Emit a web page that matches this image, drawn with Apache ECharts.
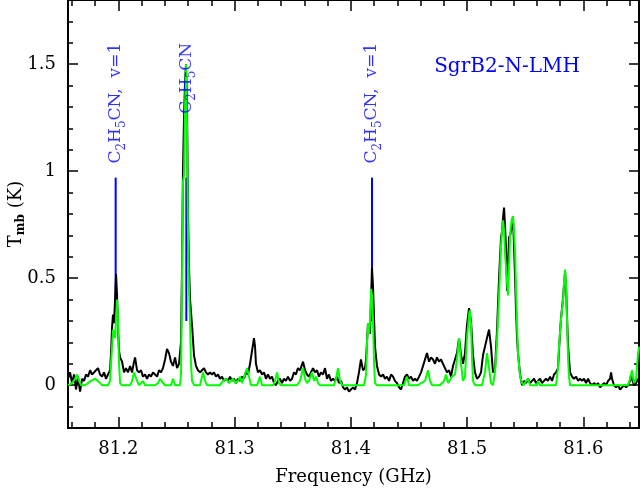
<!DOCTYPE html>
<html><head><meta charset="utf-8">
<script src="https://cdn.jsdelivr.net/npm/echarts@6/dist/echarts.min.js"></script>
<style>html,body{margin:0;padding:0;background:#fff}#c{width:640px;height:491px}</style>
</head><body><div id="c"></div>
<script>
// Observed spectrum (black)
const freqObs = [81.1567,81.1585,81.1602,81.1619,81.1636,81.1653,81.1671,81.1688,81.1705,81.1722,81.1739,81.1757,81.1774,81.1791,81.1808,81.1825,81.1843,81.1860,81.1877,81.1894,81.1911,81.1929,81.1937,81.1946,81.1954,81.1963,81.1972,81.1980,81.1989,81.1997,81.2006,81.2015,81.2032,81.2049,81.2066,81.2083,81.2101,81.2118,81.2135,81.2144,81.2161,81.2178,81.2195,81.2212,81.2230,81.2247,81.2264,81.2281,81.2298,81.2316,81.2333,81.2350,81.2367,81.2384,81.2402,81.2419,81.2436,81.2453,81.2470,81.2488,81.2505,81.2522,81.2539,81.2548,81.2556,81.2565,81.2574,81.2582,81.2591,81.2599,81.2608,81.2617,81.2634,81.2651,81.2668,81.2685,81.2703,81.2720,81.2737,81.2754,81.2771,81.2789,81.2806,81.2823,81.2840,81.2857,81.2875,81.2892,81.2909,81.2926,81.2943,81.2961,81.2978,81.2995,81.3012,81.3029,81.3047,81.3064,81.3081,81.3098,81.3115,81.3133,81.3150,81.3167,81.3176,81.3184,81.3201,81.3219,81.3236,81.3253,81.3270,81.3287,81.3305,81.3322,81.3339,81.3356,81.3373,81.3391,81.3408,81.3425,81.3442,81.3459,81.3477,81.3494,81.3511,81.3528,81.3545,81.3563,81.3589,81.3606,81.3623,81.3640,81.3657,81.3675,81.3692,81.3709,81.3726,81.3743,81.3761,81.3778,81.3795,81.3812,81.3829,81.3847,81.3864,81.3881,81.3898,81.3915,81.3933,81.3950,81.3967,81.3984,81.4001,81.4019,81.4036,81.4053,81.4070,81.4087,81.4105,81.4122,81.4131,81.4148,81.4165,81.4174,81.4182,81.4191,81.4200,81.4208,81.4225,81.4243,81.4260,81.4277,81.4294,81.4311,81.4329,81.4346,81.4363,81.4380,81.4397,81.4415,81.4432,81.4449,81.4466,81.4483,81.4501,81.4518,81.4535,81.4552,81.4569,81.4587,81.4604,81.4621,81.4638,81.4655,81.4673,81.4690,81.4707,81.4724,81.4741,81.4759,81.4776,81.4793,81.4810,81.4827,81.4845,81.4862,81.4879,81.4896,81.4913,81.4931,81.4948,81.4965,81.4982,81.4999,81.5017,81.5034,81.5051,81.5068,81.5085,81.5103,81.5120,81.5137,81.5154,81.5171,81.5189,81.5206,81.5223,81.5240,81.5257,81.5275,81.5292,81.5301,81.5309,81.5318,81.5326,81.5335,81.5344,81.5352,81.5361,81.5370,81.5378,81.5387,81.5395,81.5404,81.5413,81.5421,81.5430,81.5438,81.5456,81.5473,81.5490,81.5507,81.5524,81.5542,81.5559,81.5576,81.5593,81.5610,81.5628,81.5645,81.5662,81.5679,81.5696,81.5714,81.5731,81.5748,81.5765,81.5782,81.5800,81.5808,81.5826,81.5843,81.5852,81.5860,81.5869,81.5886,81.5903,81.5920,81.5938,81.5955,81.5972,81.5989,81.6006,81.6024,81.6041,81.6058,81.6075,81.6092,81.6110,81.6127,81.6144,81.6161,81.6178,81.6196,81.6213,81.6230,81.6239,81.6247,81.6264,81.6282,81.6299,81.6316,81.6333,81.6350,81.6368,81.6385,81.6402,81.6411,81.6419,81.6436,81.6454,81.6471];
const tmbObs = [0.03,0.06,0.01,0.05,-0.02,0.04,-0.03,0.03,0.02,0.05,0.04,0.07,0.05,0.06,0.07,0.08,0.05,0.04,0.06,0.03,0.05,0.07,0.15,0.27,0.33,0.29,0.40,0.52,0.42,0.27,0.16,0.13,0.11,0.06,0.08,0.06,0.09,0.06,0.11,0.13,0.07,0.06,0.07,0.04,0.05,0.03,0.05,0.04,0.06,0.05,0.04,0.07,0.06,0.08,0.12,0.17,0.15,0.11,0.09,0.13,0.08,0.10,0.20,0.55,1.00,1.25,1.42,1.50,1.30,0.80,0.55,0.40,0.28,0.14,0.09,0.07,0.06,0.07,0.08,0.06,0.05,0.06,0.05,0.06,0.04,0.05,0.03,0.04,0.02,0.03,0.02,0.04,0.02,0.03,0.01,0.03,0.02,0.04,0.03,0.06,0.05,0.10,0.16,0.22,0.18,0.10,0.06,0.07,0.05,0.06,0.03,0.05,0.03,0.04,0.01,0.00,0.02,0.03,0.01,0.03,0.02,0.04,0.02,0.03,0.06,0.05,0.08,0.07,0.11,0.07,0.05,0.04,0.06,0.08,0.06,0.07,0.04,0.06,0.05,0.08,0.03,0.05,0.02,0.03,0.02,0.04,0.01,0.02,-0.01,-0.02,-0.01,-0.03,-0.02,-0.01,-0.02,0.01,0.06,0.12,0.07,0.08,0.12,0.29,0.24,0.40,0.55,0.46,0.31,0.18,0.09,0.05,0.04,0.05,0.03,0.04,0.02,0.05,0.04,0.02,0.01,-0.01,-0.02,0.01,0.04,0.05,0.03,0.04,0.02,0.03,0.02,0.04,0.06,0.09,0.12,0.15,0.11,0.13,0.12,0.10,0.13,0.11,0.12,0.10,0.08,0.06,0.07,0.04,0.09,0.12,0.15,0.22,0.14,0.10,0.15,0.28,0.36,0.30,0.14,0.06,0.03,0.04,0.06,0.14,0.18,0.22,0.26,0.18,0.06,0.07,0.25,0.50,0.69,0.72,0.78,0.83,0.75,0.64,0.44,0.55,0.69,0.70,0.72,0.76,0.78,0.65,0.50,0.35,0.22,0.15,0.05,0.00,0.02,0.01,0.03,0.01,0.02,0.03,0.01,0.02,0.03,0.01,0.02,0.03,0.02,0.04,0.02,0.05,0.06,0.08,0.25,0.31,0.41,0.53,0.45,0.32,0.18,0.06,0.04,0.03,0.04,0.02,0.03,0.02,0.03,0.01,0.03,0.01,0.00,0.01,0.00,0.01,-0.01,0.00,0.01,0.00,0.02,0.03,0.06,0.03,0.00,-0.01,0.00,-0.02,-0.01,0.00,-0.01,0.00,0.02,0.05,0.03,0.00,0.01,0.03];

// Model spectrum (green)
const freqModel = [81.1567,81.1602,81.1628,81.1645,81.1662,81.1679,81.1714,81.1739,81.1765,81.1800,81.1817,81.1843,81.1860,81.1911,81.1929,81.1937,81.1946,81.1954,81.1963,81.1972,81.1980,81.1989,81.1997,81.2006,81.2015,81.2032,81.2101,81.2118,81.2135,81.2144,81.2161,81.2178,81.2195,81.2212,81.2230,81.2316,81.2342,81.2359,81.2384,81.2402,81.2453,81.2470,81.2488,81.2531,81.2539,81.2548,81.2556,81.2565,81.2574,81.2582,81.2591,81.2599,81.2608,81.2617,81.2625,81.2634,81.2651,81.2703,81.2711,81.2728,81.2746,81.2763,81.2875,81.2901,81.2926,81.2952,81.2969,81.2987,81.3004,81.3029,81.3047,81.3064,81.3081,81.3107,81.3124,81.3141,81.3193,81.3219,81.3236,81.3331,81.3348,81.3365,81.3382,81.3399,81.3537,81.3563,81.3589,81.3606,81.3623,81.3640,81.3666,81.3683,81.3700,81.3718,81.3735,81.3855,81.3872,81.3890,81.3907,81.3924,81.4113,81.4131,81.4139,81.4148,81.4157,81.4165,81.4174,81.4182,81.4191,81.4200,81.4208,81.4225,81.4458,81.4483,81.4501,81.4578,81.4604,81.4638,81.4664,81.4681,81.4699,81.4767,81.4802,81.4819,81.4836,81.4853,81.4870,81.4896,81.4913,81.4931,81.4948,81.4965,81.4982,81.4999,81.5017,81.5025,81.5034,81.5043,81.5051,81.5068,81.5128,81.5154,81.5171,81.5189,81.5206,81.5223,81.5240,81.5257,81.5275,81.5284,81.5292,81.5301,81.5309,81.5318,81.5326,81.5335,81.5344,81.5352,81.5361,81.5370,81.5378,81.5387,81.5395,81.5404,81.5413,81.5421,81.5430,81.5438,81.5456,81.5473,81.5490,81.5507,81.5524,81.5542,81.5602,81.5610,81.5628,81.5765,81.5782,81.5791,81.5808,81.5826,81.5834,81.5843,81.5852,81.5860,81.5869,81.5877,81.5886,81.6385,81.6402,81.6419,81.6436,81.6454,81.6471,81.6479];
const tmbModel = [0.00,0.01,0.03,0.05,0.02,0.00,0.00,0.01,0.02,0.03,0.03,0.01,0.00,0.00,0.02,0.10,0.18,0.26,0.24,0.22,0.32,0.40,0.30,0.10,0.01,0.00,0.00,0.02,0.06,0.06,0.02,0.00,0.00,0.02,0.00,0.00,0.01,0.03,0.01,0.00,0.00,0.03,0.00,0.00,0.05,0.50,0.95,0.98,1.30,1.50,1.20,0.72,0.45,0.29,0.10,0.02,0.00,0.00,0.02,0.06,0.02,0.00,0.00,0.02,0.03,0.01,0.01,0.03,0.01,0.02,0.04,0.01,0.01,0.08,0.04,0.00,0.00,0.04,0.00,0.00,0.02,0.06,0.01,0.00,0.00,0.02,0.08,0.03,0.01,0.02,0.06,0.02,0.04,0.01,0.00,0.00,0.03,0.08,0.02,0.00,0.00,0.05,0.20,0.29,0.24,0.30,0.45,0.42,0.30,0.10,0.01,0.00,0.00,0.04,0.00,0.00,0.01,0.02,0.07,0.02,0.00,0.00,0.02,0.05,0.01,0.01,0.04,0.05,0.12,0.22,0.10,0.02,0.04,0.22,0.33,0.35,0.28,0.12,0.02,0.00,0.00,0.06,0.15,0.08,0.01,0.00,0.06,0.20,0.42,0.54,0.65,0.72,0.77,0.72,0.62,0.55,0.48,0.42,0.55,0.70,0.75,0.78,0.79,0.72,0.62,0.45,0.28,0.15,0.04,0.01,0.00,0.02,0.03,0.00,0.00,0.02,0.00,0.00,0.08,0.18,0.31,0.40,0.48,0.54,0.46,0.30,0.12,0.04,0.00,0.00,0.03,0.07,0.01,0.03,0.15,0.18];

// Line identifications (blue markers run from the line peak up to lineTop)
const lineFreqs = [81.1977, 81.2585, 81.4182];
const lineBottom = 0.3;
const lineTop = 0.97;
const lineLabelY = 1.60;
const lineLabels = [
  '{n|C}{s|2}{n|H}{s|5}{n|CN,  v=1}',
  '{n|C}{s|2}{n|H}{s|5}{n|CN}',
  '{n|C}{s|2}{n|H}{s|5}{n|CN,  v=1}'
];
const sourceName = 'SgrB2-N-LMH';

// Axes ticks
const xMajorTicks = [81.2, 81.3, 81.4, 81.5, 81.6];
const xMinorTicks = [81.16,81.18,81.22,81.24,81.26,81.28,81.32,81.34,81.36,81.38,81.42,81.44,81.46,81.48,81.52,81.54,81.56,81.58,81.62,81.64];
const yMajorTicks = [0, 0.5, 1, 1.5];
const yMinorTicks = [-0.2,-0.1,0.1,0.2,0.3,0.4,0.6,0.7,0.8,0.9,1.1,1.2,1.3,1.4,1.6,1.7];
const xRange = [81.1567, 81.6479];
const yRange = [-0.2, 1.8];

const FONT = '"DejaVu Serif", serif';
const zip = (a, b) => a.map((v, i) => [v, b[i]]);

function xAx(pos, ticks, len, labels) {
  return {
    type: 'value', min: xRange[0], max: xRange[1], position: pos, gridIndex: 0,
    axisLine: {show: true, onZero: false, lineStyle: {color: '#000', width: 2}},
    axisTick: {show: true, inside: true, length: len, customValues: ticks, lineStyle: {color: '#000', width: 1.5}},
    axisLabel: labels ? {show: true, customValues: ticks, margin: 12, color: '#000', fontFamily: FONT, fontSize: 18,
      formatter: v => Number(v).toFixed(1)} : {show: false},
    splitLine: {show: false}
  };
}
function yAx(pos, ticks, len, labels) {
  return {
    type: 'value', min: yRange[0], max: yRange[1], position: pos, gridIndex: 0,
    axisLine: {show: true, onZero: false, lineStyle: {color: '#000', width: 2}},
    axisTick: {show: true, inside: true, length: len, customValues: ticks, lineStyle: {color: '#000', width: 1.5}},
    axisLabel: labels ? {show: true, customValues: ticks, margin: 12, color: '#000', fontFamily: FONT, fontSize: 18,
      formatter: v => String(Number(v))} : {show: false},
    splitLine: {show: false}
  };
}

const xAxes = [xAx('bottom', xMajorTicks, 11, true), xAx('bottom', xMinorTicks, 6, false),
               xAx('top', xMajorTicks, 11, false), xAx('top', xMinorTicks, 6, false)];
xAxes[0].name = 'Frequency (GHz)';
xAxes[0].nameLocation = 'middle';
xAxes[0].nameGap = 40;
xAxes[0].nameMoveOverlap = false;
xAxes[0].nameTextStyle = {color: '#000', fontFamily: FONT, fontSize: 18};

const yAxes = [yAx('left', yMajorTicks, 10, true), yAx('left', yMinorTicks, 5, false),
               yAx('right', yMajorTicks, 10, false), yAx('right', yMinorTicks, 5, false)];
yAxes[0].name = '{n|T}{s|mb}{n| (K)}';
yAxes[0].nameLocation = 'middle';
yAxes[0].nameGap = 41;
yAxes[0].nameRotate = 90;
yAxes[0].nameMoveOverlap = false;
yAxes[0].nameTextStyle = {color: '#000', fontFamily: FONT, fontSize: 18,
  rich: {n: {fontFamily: FONT, fontSize: 18, color: '#000', lineHeight: 22},
         s: {fontFamily: FONT, fontSize: 12, fontWeight: 'bold', color: '#000', lineHeight: 12, verticalAlign: 'bottom'}}};

const idLineSeries = lineFreqs.map(f => ({
  type: 'line', xAxisIndex: 0, yAxisIndex: 0, symbol: 'none', z: 1, silent: true,
  data: [[f, lineBottom], [f, lineTop]],
  lineStyle: {color: '#0000ff', width: 2}
}));

const chart = echarts.init(document.getElementById('c'), null, {renderer: 'canvas'});
chart.setOption({
  animation: false,
  backgroundColor: '#fff',
  grid: {left: 68, right: 1, top: 0, bottom: 63, containLabel: false, outerBoundsMode: 'none'},
  xAxis: xAxes,
  yAxis: yAxes,
  graphic: [{
    type: 'text', x: 507, y: 67, z: 100,
    style: {text: sourceName, font: '20px "DejaVu Serif", serif', fill: '#0000ff', textAlign: 'center', textVerticalAlign: 'middle'}
  }],
  series: idLineSeries.concat([
    {
      type: 'line', xAxisIndex: 0, yAxisIndex: 0, data: zip(freqObs, tmbObs), symbol: 'none', z: 5,
      lineStyle: {color: '#000', width: 2}
    },
    {
      type: 'line', xAxisIndex: 0, yAxisIndex: 0, data: zip(freqModel, tmbModel), symbol: 'none', z: 6,
      lineStyle: {color: '#00ff00', width: 2}
    },
    {
      type: 'scatter', xAxisIndex: 0, yAxisIndex: 0, symbolSize: 0, z: 7,
      data: lineFreqs.map((f, i) => ({value: [f, lineLabelY], name: lineLabels[i]})),
      label: {
        show: true, position: 'inside', rotate: 90, align: 'right', verticalAlign: 'middle',
        formatter: p => p.name,
        rich: {
          n: {fontFamily: FONT, fontSize: 17, color: '#0000ff', lineHeight: 24},
          s: {fontFamily: FONT, fontSize: 12, color: '#0000ff', lineHeight: 12, verticalAlign: 'bottom'}
        }
      }
    }
  ])
});
</script>
</body></html>
